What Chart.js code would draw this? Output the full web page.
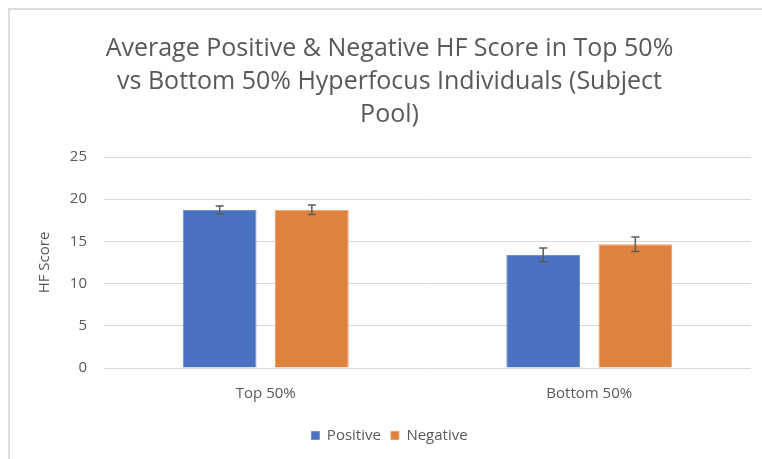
<!DOCTYPE html>
<html>
<head>
<meta charset="utf-8">
<script src="https://cdn.jsdelivr.net/npm/chart.js@4/dist/chart.umd.min.js"></script>
<style>
  html, body { margin: 0; padding: 0; background: #ffffff; overflow: hidden; }
  #frame { position: absolute; left: 8px; top: 8px; width: 800px; height: 500px; border: 2px solid #dcdcdc; box-sizing: border-box; }
  #wrap { position: absolute; left: 0; top: 0; width: 762px; height: 459px; }
</style>
</head>
<body>
<div id="frame"></div>
<div id="wrap"><canvas id="c" width="762" height="459"></canvas></div>
<script>
const categories = ["Top 50%", "Bottom 50%"];
const seriesNames = ["Positive", "Negative"];
const positiveValues = [18.73, 13.4];
const negativeValues = [18.75, 14.65];
const positiveErrors = [0.45, 0.82];
const negativeErrors = [0.55, 0.86];
const yTicks = [0, 5, 10, 15, 20, 25];
const titleLines = ["Average Positive & Negative HF Score in Top 50%", "vs Bottom 50% Hyperfocus Individuals (Subject", "Pool)"];

const FONT = "'Open Sans', sans-serif";
const GREY = "#595959";

const errorBarPlugin = {
  id: "errorBars",
  afterDatasetsDraw(chart) {
    const ctx = chart.ctx;
    const y = chart.scales.y;
    ctx.save();
    ctx.strokeStyle = "#5b5b5b";
    ctx.lineWidth = 1.5;
    chart.data.datasets.forEach((ds, di) => {
      const meta = chart.getDatasetMeta(di);
      meta.data.forEach((bar, i) => {
        const v = ds.data[i];
        const e = ds.errors[i];
        const x = bar.x;
        const yTop = y.getPixelForValue(v + e);
        const yBot = y.getPixelForValue(v - e);
        const cap = 4;
        ctx.beginPath();
        ctx.moveTo(x, yTop); ctx.lineTo(x, yBot);
        ctx.moveTo(x - cap, yTop); ctx.lineTo(x + cap, yTop);
        ctx.moveTo(x - cap, yBot); ctx.lineTo(x + cap, yBot);
        ctx.stroke();
      });
    });
    ctx.restore();
  }
};

new Chart(document.getElementById("c"), {
  type: "bar",
  data: {
    labels: categories,
    datasets: [
      { label: seriesNames[0], data: positiveValues, errors: positiveErrors,
        backgroundColor: "#4a72c0", borderColor: "#6f8fd0", borderWidth: 1,
        categoryPercentage: 0.57, barPercentage: 0.80 },
      { label: seriesNames[1], data: negativeValues, errors: negativeErrors,
        backgroundColor: "#e0823f", borderColor: "#eda06d", borderWidth: 1,
        categoryPercentage: 0.57, barPercentage: 0.80 }
    ]
  },
  options: {
    responsive: false,
    animation: false,
    devicePixelRatio: 1,
    layout: { padding: { left: 28, right: 11, top: 0, bottom: 6 } },
    plugins: {
      title: {
        display: true,
        text: titleLines,
        color: GREY,
        font: { family: FONT, size: 25, weight: "normal", lineHeight: 1.32 },
        padding: { top: 32, bottom: 26 }
      },
      legend: {
        position: "bottom",
        labels: {
          color: GREY,
          font: { family: FONT, size: 15 },
          boxWidth: 8, boxHeight: 8,
          padding: 10
        }
      },
      tooltip: { enabled: false }
    },
    scales: {
      x: {
        grid: { display: false, drawTicks: false },
        border: { display: false },
        ticks: { color: GREY, font: { family: FONT, size: 15 }, padding: 17 },
        afterFit(s) { s.height = 50; }
      },
      y: {
        min: 0, max: 25,
        afterBuildTicks(s) { s.ticks = yTicks.map(v => ({ value: v })); },
        grid: { color: "#d9d9d9", lineWidth: 1, drawTicks: false },
        border: { display: false },
        ticks: { color: GREY, font: { family: FONT, size: 15 }, padding: 17 },
        title: { display: true, text: "HF Score", color: GREY, font: { family: FONT, size: 15 }, padding: { top: 8, bottom: 0 } },
        afterFit(s) { s.width = 76; }
      }
    }
  },
  plugins: [errorBarPlugin]
});
</script>
</body>
</html>
